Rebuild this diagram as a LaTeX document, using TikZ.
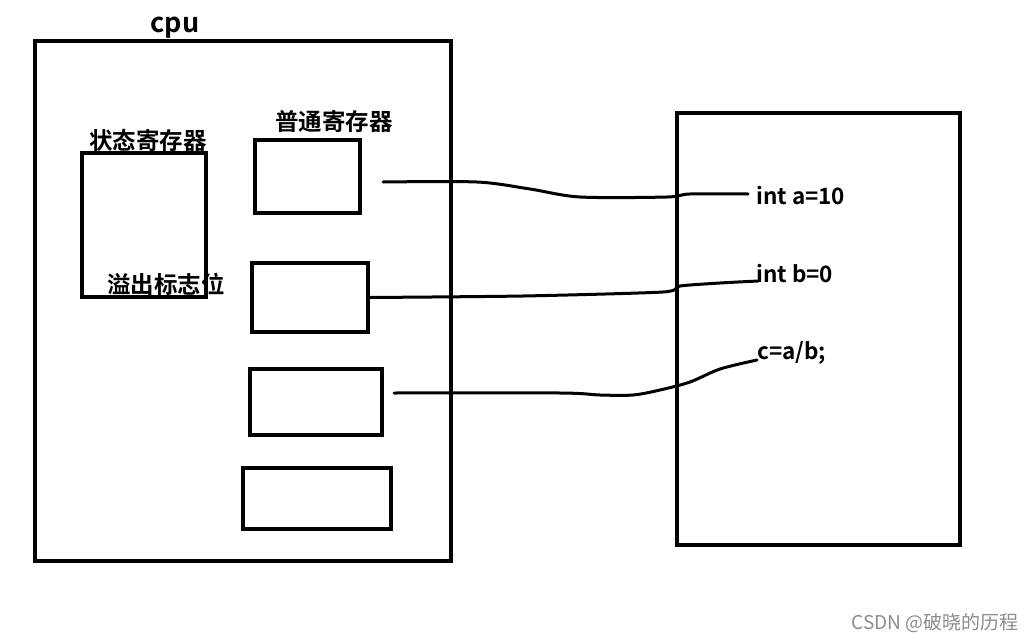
\documentclass[tikz,border=0pt]{standalone}
\usepackage{fontspec}
\setmainfont{Noto Sans CJK SC}[BoldFont={* Bold}]
\newfontfamily\cjkbold{Noto Sans CJK SC Bold}
\begin{document}
\begin{tikzpicture}[x=1pt,y=-1pt,
  box/.style={draw,line width=4pt,inner sep=0pt},
  wire/.style={line width=3pt,line cap=round,line join=round},
  lab/.style={inner sep=0pt,font=\cjkbold\fontsize{23.5}{23.5}\selectfont},
  code/.style={inner sep=0pt,anchor=west,font=\cjkbold\fontsize{22.5}{22.5}\selectfont}]
\useasboundingbox[fill=white] (0,0) rectangle (1035,642);
% boxes (centre at pixel coords)
\node[box,minimum width=416pt,minimum height=520pt] (cpu) at (243,301) {};
\node[box,minimum width=124pt,minimum height=144pt] (status) at (144,225) {};
\node[box,minimum width=105pt,minimum height=73pt] (r1) at (307.5,176.5) {};
\node[box,minimum width=116pt,minimum height=69pt] (r2) at (310,297.5) {};
\node[box,minimum width=132pt,minimum height=66pt] (r3) at (316,402) {};
\node[box,minimum width=148pt,minimum height=61pt] (r4) at (317,498.5) {};
\node[box,minimum width=283pt,minimum height=432pt] (mem) at (818.5,329) {};
% labels
\node[lab,font=\cjkbold\fontsize{27}{27}\selectfont] (cpulab) at (175,28) {cpu};
\node[lab] (statuslab) at (148,140) {状态寄存器};
\node[lab] (r1lab) at (334,122) {普通寄存器};
\node[lab] (oflab) at (166,284) {溢出标志位};
\node[code] (ta) at (756,196) {int a=10};
\node[code] (tb) at (756,274) {int b=0};
\node[code] (tc) at (757,353) {c=a/b;};
% wires
\coordinate (s1) at (383,182);
\coordinate (s3) at (394,393);
\draw[wire] plot[smooth,tension=0.5] coordinates {(s1) (477,182) (530,189) (580,197) (667,197) (690,194) (748,194)};
\draw[wire] plot[smooth,tension=0.4] coordinates {(r2.east) (523,296) (663,292) (680,286) (720,283) (758,281)};
\draw[wire] plot[smooth,tension=0.5] coordinates {(s3) (560,393) (600,395) (633,395) (660,390) (690,382) (720,369) (757,360)};
% watermark
\node[inner sep=0pt,anchor=east,text=black!45,font=\fontsize{19}{19}\selectfont] (wm) at (1019,623) {CSDN @破晓的历程};
\end{tikzpicture}
\end{document}
